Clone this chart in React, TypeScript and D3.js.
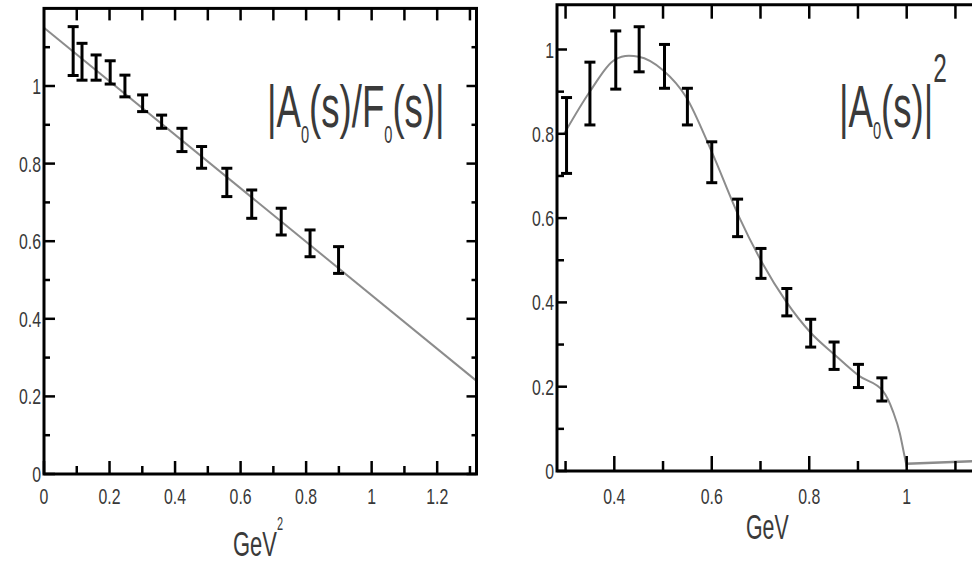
import React from "react";
import * as d3 from "d3";

const W = 972;
const H = 562;

// left panel: |A0(s)/F0(s)| against s in GeV^2
const ratioS = [0.089, 0.116, 0.159, 0.202, 0.247, 0.301, 0.359, 0.421, 0.481, 0.558, 0.634, 0.724, 0.812, 0.899];
const ratioLo = [1.027, 1.015, 1.015, 1.005, 0.972, 0.934, 0.891, 0.831, 0.788, 0.715, 0.659, 0.616, 0.56, 0.517];
const ratioHi = [1.153, 1.11, 1.08, 1.065, 1.028, 0.977, 0.925, 0.891, 0.844, 0.788, 0.732, 0.685, 0.629, 0.586];
const fitS = [0, 1.32];
const fitV = [1.15, 0.24];

// right panel: |A0(s)|^2 against sqrt(s) in GeV
const ampE = [0.302, 0.35, 0.403, 0.451, 0.503, 0.55, 0.6, 0.653, 0.701, 0.754, 0.803, 0.851, 0.901, 0.949];
const ampLo = [0.706, 0.821, 0.906, 0.947, 0.908, 0.821, 0.684, 0.556, 0.457, 0.368, 0.294, 0.241, 0.198, 0.166];
const ampHi = [0.886, 0.97, 1.044, 1.054, 1.012, 0.908, 0.781, 0.645, 0.528, 0.433, 0.36, 0.306, 0.253, 0.221];
const curveE = [0.297, 0.352, 0.4, 0.43, 0.45, 0.5, 0.547, 0.6, 0.656, 0.704, 0.752, 0.803, 0.851, 0.903, 0.951, 0.972, 0.986, 0.993, 1.0];
const curveV = [0.8, 0.904, 0.975, 0.985, 0.983, 0.951, 0.888, 0.757, 0.603, 0.493, 0.403, 0.328, 0.277, 0.225, 0.19, 0.141, 0.089, 0.05, 0.01];
const tailE = [1.0, 1.15];
const tailV = [0.017, 0.024];

// ticks
const leftXMajor = [0, 0.2, 0.4, 0.6, 0.8, 1, 1.2];
const leftXMinor = [0.1, 0.3, 0.5, 0.7, 0.9, 1.1, 1.3];
const leftXLabels = ["0", "0.2", "0.4", "0.6", "0.8", "1", "1.2"];
const leftYMajor = [0, 0.2, 0.4, 0.6, 0.8, 1];
const leftYMinor = [0.1, 0.3, 0.5, 0.7, 0.9, 1.1];
const leftYLabels = ["0", "0.2", "0.4", "0.6", "0.8", "1"];
const rightXMajor = [0.4, 0.6, 0.8, 1];
const rightXMinor = [0.3, 0.5, 0.7, 0.9, 1.1];
const rightXLabels = ["0.4", "0.6", "0.8", "1"];
const rightYMajor = [0, 0.2, 0.4, 0.6, 0.8, 1];
const rightYMinor = [0.1, 0.3, 0.5, 0.7, 0.9];
const rightYLabels = ["0", "0.2", "0.4", "0.6", "0.8", "1"];

const FONT = "'Liberation Sans', Arial, sans-serif";
const SX = 0.61;
const TICK_FILL = "#383838";
const LABEL_FILL = "#3a3a3a";
const CURVE = "#8c8c8c";

function Txt(props: {
  x: number;
  y: number;
  size: number;
  anchor?: string;
  sx?: number;
  fill?: string;
  children: React.ReactNode;
}) {
  const { x, y, size, anchor = "start", sx = SX, fill = TICK_FILL, children } = props;
  return (
    <g transform={`translate(${x},${y}) scale(${sx},1)`}>
      <text textAnchor={anchor} fontSize={size} fontFamily={FONT} fill={fill}>
        {children}
      </text>
    </g>
  );
}

function ErrorBars(props: {
  xs: number[];
  lo: number[];
  hi: number[];
  x: d3.ScaleLinear<number, number>;
  y: d3.ScaleLinear<number, number>;
}) {
  const { xs, lo, hi, x, y } = props;
  const cap = 5.5;
  return (
    <g stroke="#000" strokeWidth={3}>
      {xs.map((d, i) => (
        <g key={i}>
          <line x1={x(d)} x2={x(d)} y1={y(hi[i])} y2={y(lo[i])} />
          <line x1={x(d) - cap} x2={x(d) + cap} y1={y(hi[i])} y2={y(hi[i])} />
          <line x1={x(d) - cap} x2={x(d) + cap} y1={y(lo[i])} y2={y(lo[i])} />
        </g>
      ))}
    </g>
  );
}

function LeftPanel() {
  const x = d3.scaleLinear().domain([0, 1.32]).range([44, 476.5]);
  const y = d3.scaleLinear().domain([0, 1.2]).range([474, 8.4]);
  const x0 = x(0), x1 = x(1.32), y0 = y(0), y1 = y(1.2);
  const fit = d3.line<number>().x((d) => x(d)).y((_, i) => y(fitV[i]));

  return (
    <g>
      <path d={fit(fitS) || ""} fill="none" stroke={CURVE} strokeWidth={2} />
      <ErrorBars xs={ratioS} lo={ratioLo} hi={ratioHi} x={x} y={y} />

      {/* frame */}
      <rect x={x0} y={y1} width={x1 - x0} height={y0 - y1} fill="none" stroke="#000" strokeWidth={3} />

      {/* ticks */}
      <g stroke="#000" strokeWidth={2.5}>
        {leftXMajor.map((d) => (
          <line key={"bM" + d} x1={x(d)} x2={x(d)} y1={y0} y2={y0 - 13} />
        ))}
        {leftXMinor.map((d) => (
          <line key={"bm" + d} x1={x(d)} x2={x(d)} y1={y0} y2={y0 - 8} />
        ))}
        {leftXMajor.concat(leftXMinor).filter((d) => d > 0).map((d) => (
          <line key={"t" + d} x1={x(d)} x2={x(d)} y1={y1} y2={y1 + 12} />
        ))}
        {leftYMajor.map((d) => (
          <g key={"yM" + d}>
            <line x1={x0} x2={x0 + 11} y1={y(d)} y2={y(d)} />
            <line x1={x1} x2={x1 - 10} y1={y(d)} y2={y(d)} />
          </g>
        ))}
        {leftYMinor.map((d) => (
          <g key={"ym" + d}>
            <line x1={x0} x2={x0 + 6} y1={y(d)} y2={y(d)} />
            <line x1={x1} x2={x1 - 5} y1={y(d)} y2={y(d)} />
          </g>
        ))}
      </g>

      {/* tick labels */}
      {leftXMajor.map((d, i) => (
        <Txt key={"xl" + d} x={x(d)} y={504} size={22} anchor="middle" sx={0.72}>
          {leftXLabels[i]}
        </Txt>
      ))}
      {leftYMajor.map((d, i) => (
        <Txt key={"yl" + d} x={41} y={y(d) + 8} size={22} anchor="end" sx={0.72}>
          {leftYLabels[i]}
        </Txt>
      ))}

      {/* titles */}
      <Txt x={233} y={556} size={36} fill={LABEL_FILL}>
        GeV
        <tspan fontSize={18} dy={-26}>2</tspan>
      </Txt>
      <Txt x={267} y={127} size={60} fill={LABEL_FILL}>
        |A
        <tspan fontSize={24} dy={16}>0</tspan>
        <tspan dy={-16}>(s)/F</tspan>
        <tspan fontSize={24} dy={16}>0</tspan>
        <tspan dy={-16}>(s)|</tspan>
      </Txt>
    </g>
  );
}

function RightPanel() {
  const x = d3.scaleLinear().domain([0.4, 1.0]).range([614.3, 906.7]);
  const y = d3.scaleLinear().domain([0, 1]).range([471, 49.5]);
  const x0 = 557, x1 = W + 10, y0 = y(0), y1 = 4.7;
  const curve = d3
    .line<number>()
    .x((d) => x(d))
    .y((_, i) => y(curveV[i]))
    .curve(d3.curveMonotoneX);
  const tail = d3.line<number>().x((d) => x(d)).y((_, i) => y(tailV[i]));

  return (
    <g>
      <path d={curve(curveE) || ""} fill="none" stroke={CURVE} strokeWidth={2} />
      <path d={tail(tailE) || ""} fill="none" stroke={CURVE} strokeWidth={2.5} />
      <ErrorBars xs={ampE} lo={ampLo} hi={ampHi} x={x} y={y} />

      {/* frame, right side is cut off */}
      <path d={`M${x1},${y1}H${x0}V${y0}H${x1}`} fill="none" stroke="#000" strokeWidth={3} />

      <g stroke="#000" strokeWidth={2.5}>
        {rightXMajor.map((d) => (
          <line key={"bM" + d} x1={x(d)} x2={x(d)} y1={y0} y2={y0 - 15} />
        ))}
        {rightXMinor.map((d) => (
          <line key={"bm" + d} x1={x(d)} x2={x(d)} y1={y0} y2={y0 - 10} />
        ))}
        {rightXMajor.concat(rightXMinor).map((d) => (
          <line key={"t" + d} x1={x(d)} x2={x(d)} y1={y1} y2={y1 + 14} />
        ))}
        {rightYMajor.map((d) => (
          <line key={"yM" + d} x1={x0} x2={x0 + 10} y1={y(d)} y2={y(d)} />
        ))}
        {rightYMinor.map((d) => (
          <line key={"ym" + d} x1={x0} x2={x0 + 7} y1={y(d)} y2={y(d)} />
        ))}
      </g>

      {rightXMajor.map((d, i) => (
        <Txt key={"xl" + d} x={x(d)} y={504} size={22} anchor="middle" sx={0.72}>
          {rightXLabels[i]}
        </Txt>
      ))}
      {rightYMajor.map((d, i) => (
        <Txt key={"yl" + d} x={554} y={y(d) + 8} size={22} anchor="end" sx={0.72}>
          {rightYLabels[i]}
        </Txt>
      ))}

      <Txt x={746} y={539} size={35} fill={LABEL_FILL}>
        GeV
      </Txt>
      <Txt x={839} y={127} size={60} fill={LABEL_FILL}>
        |A
        <tspan fontSize={24} dy={12}>0</tspan>
        <tspan dy={-12}>(s)|</tspan>
        <tspan fontSize={40} dy={-45}>2</tspan>
      </Txt>
    </g>
  );
}

export default function App() {
  return (
    <svg
      width={W}
      height={H}
      viewBox={`0 0 ${W} ${H}`}
      style={{ position: "absolute", left: 0, top: 0, background: "#fff" }}
    >
      <rect width={W} height={H} fill="#fff" />
      <LeftPanel />
      <RightPanel />
    </svg>
  );
}
